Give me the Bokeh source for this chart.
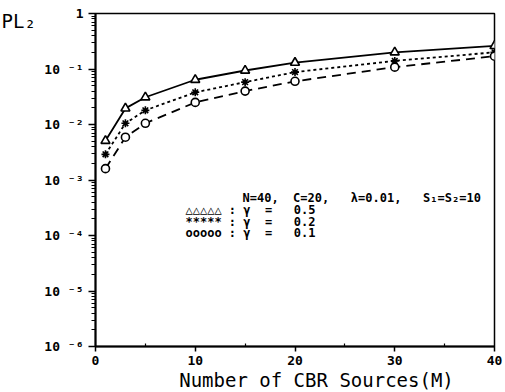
from bokeh.plotting import figure
from bokeh.models import FixedTicker, CustomJSTickFormatter, Label, Range1d
from bokeh.embed import file_html
from bokeh.resources import INLINE

# ---- data ----
m_sources = [1, 3, 5, 10, 15, 20, 30, 40]
pl2_gamma_05 = [5.1e-3, 1.95e-2, 3.1e-2, 6.4e-2, 9.4e-2, 0.13, 0.20, 0.26]
pl2_gamma_02 = [2.9e-3, 1.05e-2, 1.8e-2, 3.8e-2, 5.8e-2, 8.8e-2, 0.14, 0.20]
pl2_gamma_01 = [1.6e-3, 5.9e-3, 1.05e-2, 2.5e-2, 4.0e-2, 6.0e-2, 0.108, 0.17]

x_ticks = [0, 10, 20, 30, 40]
x_minor = [5, 15, 25, 35]
y_decades = [-6, -5, -4, -3, -2, -1, 0]
y_tick_labels = ["10 ⁻⁶", "10 ⁻⁵", "10 ⁻⁴", "10 ⁻³", "10 ⁻²", "10 ⁻¹", "1"]

FONT = "DejaVu Sans Mono"
SP = "\u00a0"

p = figure(width=505, height=392, y_axis_type="log",
           x_range=Range1d(0, 40), y_range=Range1d(1e-6, 1),
           output_backend="svg", toolbar_location=None,
           min_border_left=95, min_border_right=11,
           min_border_top=13, min_border_bottom=46)
p.background_fill_color = "white"
p.border_fill_color = "white"
p.grid.visible = False
p.outline_line_color = "black"
p.outline_line_width = 1.5

# axes
y_major = [10.0 ** e for e in y_decades]
y_minor = [k * 10.0 ** e for e in y_decades[:-1] for k in range(2, 10)]
p.yaxis.ticker = FixedTicker(ticks=y_major, minor_ticks=y_minor)
labels_js = "{" + ", ".join(f'"{e}": "{t}"' for e, t in zip(y_decades, y_tick_labels)) + "}"
p.yaxis.formatter = CustomJSTickFormatter(
    code=f"const m = {labels_js}; return m[String(Math.round(Math.log10(tick)))];")
p.xaxis.ticker = FixedTicker(ticks=x_ticks, minor_ticks=x_minor)

for ax in (p.xaxis[0], p.yaxis[0]):
    ax.axis_line_color = "black"
    ax.axis_line_width = 2
    ax.major_tick_line_color = "black"
    ax.minor_tick_line_color = "black"
    ax.major_tick_line_width = 1.5
    ax.minor_tick_line_width = 1.2
    ax.major_label_text_font = FONT
    ax.major_label_text_font_style = "bold"
    ax.major_label_text_color = "black"
    ax.major_label_text_font_size = "13px"

p.yaxis.major_tick_in = 0
p.yaxis.major_tick_out = 7
p.yaxis.minor_tick_in = 0
p.yaxis.minor_tick_out = 4
p.yaxis.major_label_standoff = 5
p.xaxis.major_tick_in = 0
p.xaxis.major_tick_out = 5
p.xaxis.minor_tick_in = 3
p.xaxis.minor_tick_out = 0
p.xaxis.major_label_standoff = 4

# series
p.line(m_sources, pl2_gamma_05, line_color="black", line_width=1.8)
p.scatter(m_sources, pl2_gamma_05, marker="triangle", size=9,
          fill_color="white", line_color="black", line_width=1.6)

p.line(m_sources, pl2_gamma_02, line_color="black", line_width=1.8, line_dash="3 3")
p.scatter(m_sources, pl2_gamma_02, marker="asterisk", size=8,
          line_color="black", line_width=1.6)

p.line(m_sources, pl2_gamma_01, line_color="black", line_width=1.8, line_dash="9 6")
p.scatter(m_sources, pl2_gamma_01, marker="circle", size=8,
          fill_color="white", line_color="black", line_width=1.6)

# texts
def make_label(text, x, y, size, align="left", style="bold"):
    return Label(x=x, y=y, x_units="screen", y_units="screen", text=text,
                 text_font=FONT, text_font_size=size, text_font_style=style,
                 text_align=align, text_baseline="middle", text_color="black")

note = f"N=40,{SP*2}C=20,{SP*3}λ=0.01,{SP*3}S₁=S₂=10"
p.add_layout(make_label(note, 147, 149, "12px"))
p.add_layout(make_label(f"△△△△△{SP}:{SP}γ{SP*2}={SP*3}0.5", 90, 137, "12px"))
p.add_layout(make_label(f"*****{SP}:{SP}γ{SP*2}={SP*3}0.2", 90, 125, "12px"))
p.add_layout(make_label(f"ooooo{SP}:{SP}γ{SP*2}={SP*3}0.1", 90, 114, "12px"))
p.add_layout(make_label("PL₂", -6, 326, "19px", style="normal"), "left")
p.add_layout(make_label("Number of CBR Sources(M)", 221, 10, "19px", align="center", style="normal"), "below")

open("out.html", "w").write(file_html(p, INLINE))
